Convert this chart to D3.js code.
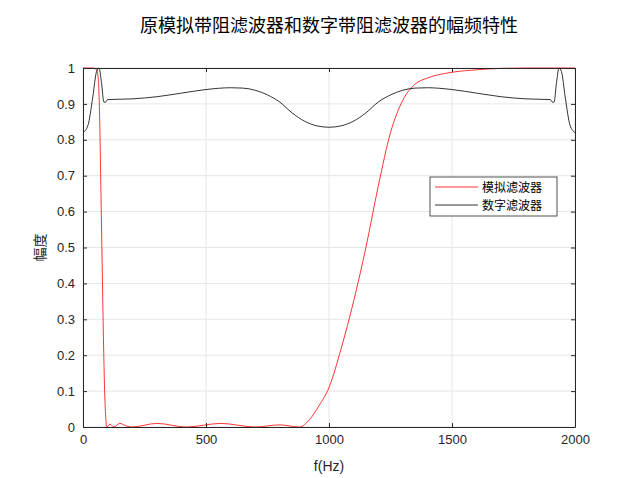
<!DOCTYPE html>
<html><head><meta charset="utf-8">
<script src="https://cdn.jsdelivr.net/npm/d3@7"></script>
<style>body{margin:0;background:#fff}</style>
</head><body>
<script>
// values
const xTicks = [0, 500, 1000, 1500, 2000];
const yTicks = [0, 0.1, 0.2, 0.3, 0.4, 0.5, 0.6, 0.7, 0.8, 0.9, 1];
const redF = [0,40,55,62,68,73,78,83,88,93,97,110,125,150,175,200,300,420,560,700,800,880,920,960,1000,1050,1100,1150,1200,1250,1300,1350,1400,1500,1600,1700,1800,2000];
const redA = [1,1,0.995,0.97,0.85,0.65,0.45,0.25,0.1,0.02,0,0.008,0,0.01,0.003,0,0.01,0,0.01,0,0.006,0,0.02,0.06,0.11,0.22,0.35,0.5,0.67,0.82,0.91,0.955,0.972,0.988,0.995,0.999,1,1];
const blackF = [0,20,40,55,65,75,85,92,100,200,300,400,500,600,650,700,750,800,850,900,950,1000,1050,1100,1150,1200,1250,1300,1350,1400,1500,1600,1700,1800,1900,1908,1915,1925,1935,1945,1960,1980,2000];
const blackA = [0.82,0.84,0.92,0.99,1.0,0.96,0.905,0.905,0.912,0.914,0.92,0.93,0.94,0.945,0.944,0.938,0.925,0.905,0.875,0.852,0.839,0.835,0.839,0.852,0.875,0.905,0.925,0.938,0.944,0.945,0.94,0.93,0.92,0.914,0.912,0.905,0.905,0.96,1.0,0.99,0.92,0.84,0.82];

const W = 637, H = 478;
const margin = {top: 68, right: 62, bottom: 51, left: 83};
const font = '"Noto Sans CJK SC", sans-serif';

const svg = d3.select('body').append('svg').attr('width', W).attr('height', H);

const x = d3.scaleLinear().domain([0, 2000]).range([margin.left, W - margin.right]);
const y = d3.scaleLinear().domain([0, 1]).range([H - margin.bottom, margin.top]);

// grid
svg.append('g').selectAll('line').data(xTicks).join('line')
  .attr('x1', d => x(d)).attr('x2', d => x(d)).attr('y1', y(0)).attr('y2', y(1))
  .attr('stroke', '#e6e6e6');
svg.append('g').selectAll('line').data(yTicks).join('line')
  .attr('x1', x(0)).attr('x2', x(2000)).attr('y1', d => y(d)).attr('y2', d => y(d))
  .attr('stroke', '#e6e6e6');

// curves
svg.append('clipPath').attr('id', 'c').append('rect')
  .attr('x', x(0)).attr('y', y(1) - 1).attr('width', x(2000) - x(0)).attr('height', y(0) - y(1) + 1);
const line = d3.line().x(d => x(d[0])).y(d => y(d[1])).curve(d3.curveMonotoneX);
svg.append('path').datum(d3.zip(redF, redA)).attr('d', line)
  .attr('fill', 'none').attr('stroke', '#ff0000').attr('stroke-width', 0.8).attr('clip-path', 'url(#c)');
svg.append('path').datum(d3.zip(blackF, blackA)).attr('d', line)
  .attr('fill', 'none').attr('stroke', '#000').attr('stroke-width', 0.8).attr('clip-path', 'url(#c)');

// axes
const styleAxis = g => {
  g.select('.domain').attr('stroke', '#262626');
  g.selectAll('.tick line').attr('stroke', '#262626');
  g.selectAll('.tick text').attr('fill', '#262626').attr('font-size', 13).attr('font-family', 'Helvetica, Arial, sans-serif');
};
svg.append('g').attr('transform', `translate(0,${y(0)})`)
  .call(d3.axisBottom(x).tickValues(xTicks).tickSize(-4).tickSizeOuter(0).tickPadding(8).tickFormat(d3.format('d')))
  .call(styleAxis);
svg.append('g').attr('transform', `translate(0,${y(1)})`)
  .call(d3.axisTop(x).tickValues(xTicks).tickSize(-4).tickSizeOuter(0).tickFormat(''))
  .call(styleAxis);
svg.append('g').attr('transform', `translate(${x(0)},0)`)
  .call(d3.axisLeft(y).tickValues(yTicks).tickSize(-4).tickSizeOuter(0).tickPadding(8).tickFormat(d3.format('~g')))
  .call(styleAxis);
svg.append('g').attr('transform', `translate(${x(2000)},0)`)
  .call(d3.axisRight(y).tickValues(yTicks).tickSize(-4).tickSizeOuter(0).tickFormat(''))
  .call(styleAxis);

// labels
svg.append('text').attr('x', (x(0) + x(2000)) / 2).attr('y', 32).attr('text-anchor', 'middle')
  .attr('font-family', font).attr('font-size', 18).attr('fill', '#000')
  .text('原模拟带阻滤波器和数字带阻滤波器的幅频特性');
svg.append('text').attr('x', (x(0) + x(2000)) / 2).attr('y', 471).attr('text-anchor', 'middle')
  .attr('font-family', 'Helvetica, Arial, sans-serif').attr('font-size', 14).attr('fill', '#262626')
  .text('f(Hz)');
svg.append('text').attr('transform', `translate(45,${(y(0) + y(1)) / 2}) rotate(-90)`).attr('text-anchor', 'middle')
  .attr('font-family', font).attr('font-size', 14).attr('fill', '#262626')
  .text('幅度');

// legend
const lg = svg.append('g').attr('transform', 'translate(430,177)');
lg.append('rect').attr('width', 127).attr('height', 39).attr('fill', '#fff').attr('stroke', '#262626').attr('stroke-width', 0.8);
[['模拟滤波器', '#ff0000'], ['数字滤波器', '#000']].forEach((d, i) => {
  const yy = 10 + i * 18;
  lg.append('line').attr('x1', 5).attr('x2', 48).attr('y1', yy).attr('y2', yy).attr('stroke', d[1]).attr('stroke-width', 0.8);
  lg.append('text').attr('x', 52).attr('y', yy + 4.5).attr('font-family', font).attr('font-size', 12).attr('fill', '#000').text(d[0]);
});
</script>
</body></html>
